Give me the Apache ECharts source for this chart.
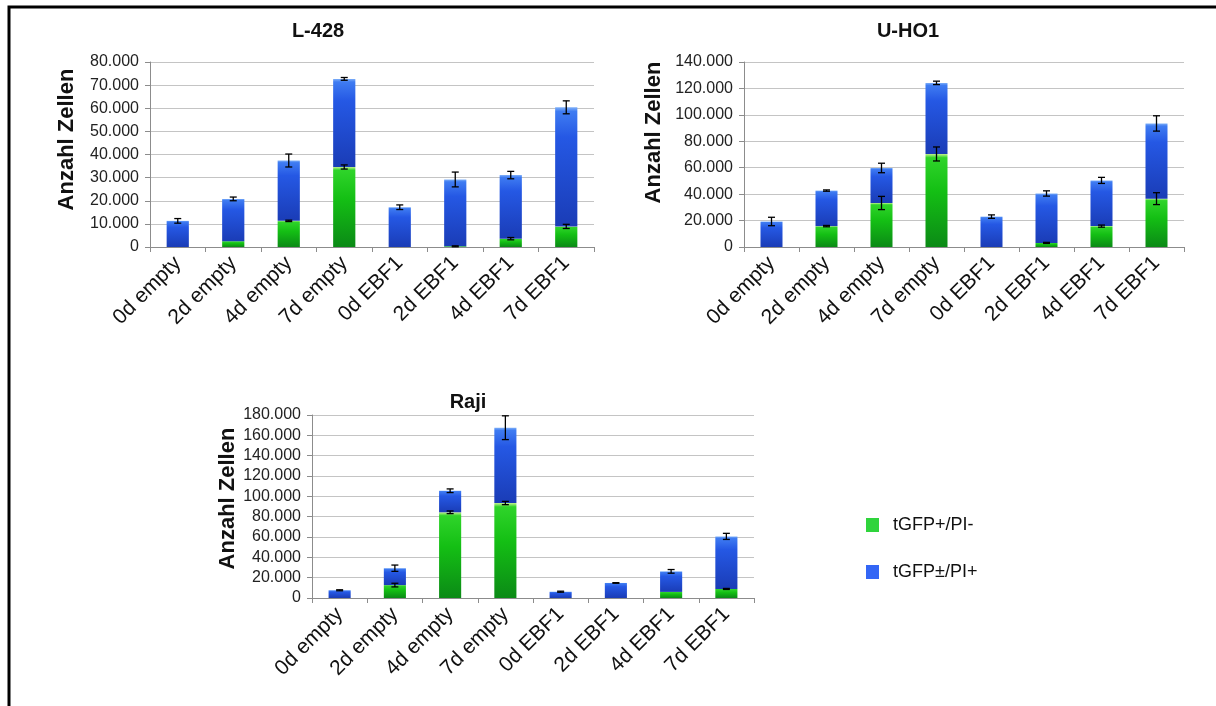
<!DOCTYPE html>
<html>
<head>
<meta charset="utf-8">
<script src="https://cdn.jsdelivr.net/npm/echarts@6/dist/echarts.min.js"></script>
<style>
  html, body { margin: 0; padding: 0; background: #fff; }
  #chart { width: 1216px; height: 706px; }
</style>
</head>
<body>
<div id="chart"></div>
<script>
// Sample groups on the x axis
const categories = ['0d empty', '2d empty', '4d empty', '7d empty', '0d EBF1', '2d EBF1', '4d EBF1', '7d EBF1'];

// L-428: total cell counts and tGFP+/PI- part, with error bars
const l428Total    = [11300, 20800, 37400, 72700, 17200, 29200, 31100, 60400];
const l428TotalErr = [1000, 800, 2800, 600, 1000, 3200, 1600, 2800];
const l428Green    = [0, 2500, 11300, 34600, 0, 300, 3600, 8900];
const l428GreenErr = [0, 0, 300, 900, 0, 200, 500, 900];

// U-HO1
const uho1Total    = [19300, 42700, 59800, 124200, 23000, 40500, 50400, 93500];
const uho1TotalErr = [3200, 500, 3600, 1300, 1300, 2000, 2300, 5800];
const uho1Green    = [0, 15800, 33300, 70400, 0, 3100, 15800, 36600];
const uho1GreenErr = [0, 500, 5000, 5300, 0, 400, 800, 4500];

// Raji
const rajiTotal    = [7600, 29300, 105500, 167500, 6200, 14800, 26200, 60600];
const rajiTotalErr = [500, 3100, 1800, 11700, 500, 300, 1800, 3000];
const rajiGreen    = [0, 12700, 84300, 93400, 0, 0, 6000, 8900];
const rajiGreenErr = [0, 1800, 1300, 1600, 0, 0, 0, 500];

// Y axis ranges [max, interval]
const l428Axis = [80000, 10000];
const uho1Axis = [140000, 20000];
const rajiAxis = [180000, 20000];

const seriesNames = ['tGFP+/PI-', 'tGFP\u00b1/PI+'];

function fmt(v) {
  return String(v).replace(/\B(?=(\d{3})+(?!\d))/g, '.');
}

const blueFill = new echarts.graphic.LinearGradient(0, 0, 0, 1, [
  { offset: 0, color: '#7fb0f8' },
  { offset: 0.035, color: '#3f7cf2' },
  { offset: 0.25, color: '#2558e4' },
  { offset: 1, color: '#1a3cb6' }
]);
const greenFill = new echarts.graphic.LinearGradient(0, 0, 0, 1, [
  { offset: 0, color: '#c3f08e' },
  { offset: 0.04, color: '#2fd42a' },
  { offset: 0.4, color: '#14bf14' },
  { offset: 1, color: '#0b8a16' }
]);

const FONT = 'Liberation Sans, Arial';

// namePad shifts the rotated y-axis title along the axis
const panels = [
  { title: 'L-428', tx: 318, ty: 21, grid: { left: 150, width: 444, top: 62, height: 185 }, namePad: 30, nameGap: 72,
    axis: l428Axis, total: l428Total, totalErr: l428TotalErr, green: l428Green, greenErr: l428GreenErr },
  { title: 'U-HO1', tx: 908, ty: 21, grid: { left: 744, width: 440, top: 62, height: 185 }, namePad: 44, nameGap: 79,
    axis: uho1Axis, total: uho1Total, totalErr: uho1TotalErr, green: uho1Green, greenErr: uho1GreenErr },
  { title: 'Raji', tx: 468, ty: 392, grid: { left: 312, width: 442, top: 415, height: 183 }, namePad: 16, nameGap: 72,
    axis: rajiAxis, total: rajiTotal, totalErr: rajiTotalErr, green: rajiGreen, greenErr: rajiGreenErr }
];

const grids = [], xAxes = [], yAxes = [], series = [], graphics = [];

// Outer frame
graphics.push({
  type: 'rect', shape: { x: 9, y: 7, width: 1400, height: 900 },
  style: { fill: null, stroke: '#000', lineWidth: 3 }, z: 100
});

function errorSeries(idx, values, errs) {
  const data = values.map((v, i) => [i, v, errs[i]]).filter(d => d[2] > 0);
  return {
    type: 'custom', xAxisIndex: idx, yAxisIndex: idx, z: 10, silent: true,
    data: data,
    encode: { x: 0, y: 1 },
    renderItem: function (params, api) {
      const x = api.value(0), v = api.value(1), e = api.value(2);
      const hi = api.coord([x, v + e]);
      const lo = api.coord([x, v - e]);
      const w = 3.5;
      const st = { stroke: '#000', lineWidth: 1.3 };
      return {
        type: 'group',
        children: [
          { type: 'line', shape: { x1: hi[0], y1: hi[1], x2: lo[0], y2: lo[1] }, style: st },
          { type: 'line', shape: { x1: hi[0] - w, y1: hi[1], x2: hi[0] + w, y2: hi[1] }, style: st },
          { type: 'line', shape: { x1: lo[0] - w, y1: lo[1], x2: lo[0] + w, y2: lo[1] }, style: st }
        ]
      };
    }
  };
}

panels.forEach((p, idx) => {
  grids.push(p.grid);
  xAxes.push({
    type: 'category', gridIndex: idx, data: categories,
    axisLine: { lineStyle: { color: '#8c8c8c' } },
    axisTick: { show: true, length: 5, lineStyle: { color: '#8c8c8c' } },
    axisLabel: { rotate: 45, fontSize: 21, color: '#111', fontFamily: FONT, margin: 13, interval: 0 }
  });
  yAxes.push({
    type: 'value', gridIndex: idx, min: 0, max: p.axis[0], interval: p.axis[1],
    name: 'Anzahl Zellen', nameLocation: 'middle', nameGap: p.nameGap,
    nameTextStyle: { fontSize: 22, fontWeight: 'bold', color: '#111', fontFamily: FONT,
                     padding: [0, 0, 0, p.namePad] },
    axisLine: { show: true, lineStyle: { color: '#8c8c8c' } },
    axisTick: { show: true, length: 5, lineStyle: { color: '#8c8c8c' } },
    splitLine: { lineStyle: { color: '#c4c4c4', width: 1 } },
    axisLabel: { fontSize: 16, color: '#222', fontFamily: FONT, margin: 11, formatter: fmt }
  });
  const blue = p.total.map((t, i) => t - p.green[i]);
  series.push({
    type: 'bar', name: seriesNames[0], xAxisIndex: idx, yAxisIndex: idx, stack: 's' + idx,
    data: p.green, barWidth: '40%', itemStyle: { color: greenFill }
  });
  series.push({
    type: 'bar', name: seriesNames[1], xAxisIndex: idx, yAxisIndex: idx, stack: 's' + idx,
    data: blue, barWidth: '40%', itemStyle: { color: blueFill }
  });
  series.push(errorSeries(idx, p.green, p.greenErr));
  series.push(errorSeries(idx, p.total, p.totalErr));
  graphics.push({
    type: 'text', x: p.tx, y: p.ty,
    style: { text: p.title, font: 'bold 20px "Liberation Sans", Arial', fill: '#111', textAlign: 'center' }
  });
});

const chart = echarts.init(document.getElementById('chart'), null, { renderer: 'canvas' });
chart.setOption({
  animation: false,
  backgroundColor: '#fff',
  grid: grids,
  xAxis: xAxes,
  yAxis: yAxes,
  series: series,
  graphic: graphics,
  legend: {
    orient: 'vertical', left: 861, top: 511, itemGap: 29,
    itemWidth: 13, itemHeight: 14, icon: 'rect',
    textStyle: { fontSize: 18, color: '#111', fontFamily: FONT, padding: [0, 0, 0, 9] },
    data: [
      { name: seriesNames[0], itemStyle: { color: '#2fd43c' } },
      { name: seriesNames[1], itemStyle: { color: '#3366f5' } }
    ]
  }
});
</script>
</body>
</html>
